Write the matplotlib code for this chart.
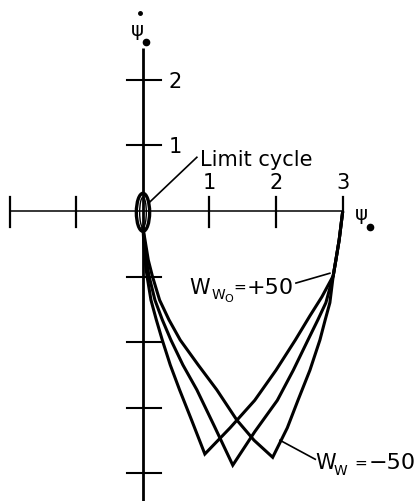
import matplotlib
matplotlib.use("Agg")
import matplotlib.pyplot as plt
from matplotlib.patches import Ellipse

# Phase-plane trajectories (psi_e, psi_e_dot) for three wind settings
curve_a_x = [0.00, 0.01, 0.03, 0.06, 0.12, 0.20, 0.29, 0.41, 0.55, 0.73, 0.93,
             1.31, 1.68, 2.00, 2.29, 2.51, 2.69, 2.86, 2.90, 2.95, 3.00]
curve_a_y = [-0.26, -0.44, -0.75, -0.99, -1.36, -1.66, -1.97, -2.35, -2.73, -3.19, -3.71,
             -3.31, -2.89, -2.43, -1.97, -1.60, -1.31, -0.99, -0.75, -0.44, -0.03]

curve_b_x = [0.00, 0.02, 0.05, 0.09, 0.18, 0.29, 0.42, 0.60, 0.81, 1.08, 1.35,
             1.68, 2.02, 2.26, 2.48, 2.63, 2.75, 2.86, 2.90, 2.95, 3.00]
curve_b_y = [-0.26, -0.44, -0.75, -0.99, -1.36, -1.66, -1.97, -2.35, -2.73, -3.30, -3.88,
             -3.37, -2.89, -2.43, -1.97, -1.66, -1.40, -0.99, -0.75, -0.44, -0.03]

curve_c_x = [0.00, 0.03, 0.08, 0.14, 0.25, 0.39, 0.56, 0.83, 1.11, 1.41, 1.67, 1.95,
             2.17, 2.33, 2.51, 2.66, 2.74, 2.81, 2.86, 2.90, 2.95, 3.00]
curve_c_y = [-0.26, -0.44, -0.75, -0.99, -1.36, -1.66, -1.97, -2.35, -2.73, -3.19, -3.50, -3.76,
             -3.31, -2.89, -2.43, -1.97, -1.66, -1.40, -0.99, -0.75, -0.44, -0.03]

# Limit cycle around the origin (width, height in axis units)
cycle_outer = (0.20, 0.58)
cycle_inner = (0.10, 0.46)

# Axes extents and ticks
x_axis_range = (-2.0, 3.0)
y_axis_range = (-4.45, 2.49)
x_ticks = [-2, -1, 1, 2, 3]
x_tick_labels = ["1", "2", "3"]
x_labelled = [1, 2, 3]
y_ticks = [2, 1, -1, -2, -3, -4]
y_labelled = [2, 1]
y_tick_labels = ["2", "1"]

fig = plt.figure(figsize=(4.18, 5.01), dpi=100)
ax = fig.add_axes([0, 0, 1, 1])
ax.set_xlim(-2.150, 4.135)
ax.set_ylim(-4.427, 3.221)
ax.axis("off")

k = "black"
# coordinate axes
ax.plot(x_axis_range, [0, 0], color=k, lw=1.1, solid_capstyle="butt")
ax.plot([0, 0], y_axis_range, color=k, lw=2.0, solid_capstyle="butt")

# ticks on horizontal axis
for t in x_ticks:
    if t == 3:
        ax.plot([t, t], [0, 0.22], color=k, lw=1.6)
    else:
        ax.plot([t, t], [-0.24, 0.22], color=k, lw=1.6)
# ticks on vertical axis
for t in y_ticks:
    ax.plot([-0.24, 0.27], [t, t], color=k, lw=1.5)

fs = 15
for t, lab in zip(x_labelled, x_tick_labels):
    ax.text(t, 0.43, lab, ha="center", va="center", fontsize=fs)
for t, lab in zip(y_labelled, y_tick_labels):
    ax.text(0.38, t - 0.03, lab, ha="left", va="center", fontsize=fs)

# trajectories
for cx, cy in [(curve_a_x, curve_a_y), (curve_b_x, curve_b_y), (curve_c_x, curve_c_y)]:
    ax.plot(cx, cy, color=k, lw=2.2, solid_joinstyle="miter")

# limit cycle
ax.add_patch(Ellipse((0, -0.02), cycle_outer[0], cycle_outer[1], fill=False, ec=k, lw=2.4))
ax.add_patch(Ellipse((0, -0.02), cycle_inner[0], cycle_inner[1], fill=False, ec=k, lw=1.0))

# axis labels
ax.text(-0.08, 2.75, "ψ", ha="center", va="center", fontsize=14)
ax.plot([-0.05], [3.02], marker="o", ms=2.5, color=k)
ax.plot([0.05], [2.58], marker="o", ms=4.5, color=k)
ax.text(3.29, -0.06, "ψ", ha="center", va="center", fontsize=14)
ax.plot([3.41], [-0.24], marker="o", ms=4.5, color=k)

# annotations
ax.text(0.86, 0.78, "Limit cycle", ha="left", va="center", fontsize=15)
ax.plot([0.105, 0.81], [0.14, 0.82], color=k, lw=1.2)

ax.text(0.85, -1.17, "W", ha="center", va="center", fontsize=15)
ax.text(1.135, -1.28, "W", ha="center", va="center", fontsize=10)
ax.text(1.29, -1.35, "O", ha="center", va="center", fontsize=8)
ax.text(1.46, -1.16, "=", ha="center", va="center", fontsize=11)
ax.text(1.92, -1.18, "+50", ha="center", va="center", fontsize=16)
ax.plot([2.30, 2.81], [-1.10, -0.95], color=k, lw=1.2)

ax.text(2.74, -3.84, "W", ha="center", va="center", fontsize=15)
ax.text(2.975, -3.97, "W", ha="center", va="center", fontsize=10)
ax.text(3.28, -3.85, "=", ha="center", va="center", fontsize=11)
ax.text(3.74, -3.85, "\u221250", ha="center", va="center", fontsize=16)
ax.plot([2.06, 2.59], [-3.50, -3.79], color=k, lw=1.2)

fig.savefig("out.png", dpi=100)
